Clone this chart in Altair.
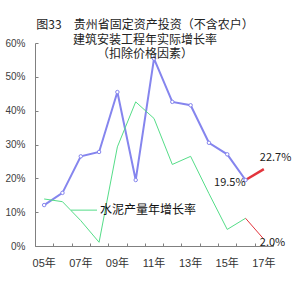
import altair as alt
import pandas as pd

# ---- data (percent) ----
years = ["05", "06", "07", "08", "09", "10", "11", "12", "13", "14", "15", "16", "17"]
hist_years = years[:12]
invest = [12.1, 15.7, 26.5, 27.8, 45.5, 19.5, 55.4, 42.6, 41.6, 30.5, 27.1, 19.5]
cement = [13.9, 13.1, 7.5, 1.1, 29.3, 42.6, 37.7, 24.1, 26.5, 15.5, 4.9, 8.2]
fc_years = ["16", "17"]
invest_fc = [19.5, 22.7]
cement_fc = [8.2, 2.0]
label_years = ["16", "17", "17"]
label_vals = [19.5, 22.7, 2.0]
label_texts = ["19.5%", "22.7%", "2.0%"]
odd_years = ["05", "07", "09", "11", "13", "15", "17"]
legend_text = "水泥产量年增长率"
legend_y = [10.6]
title_lines = ["图33\u3000贵州省固定资产投资（不含农户）", "建筑安装工程年实际增长率", "（扣除价格因素）"]

df_inv = pd.DataFrame({"year": hist_years, "v": invest})
df_cem = pd.DataFrame({"year": hist_years, "v": cement})
df_inv_fc = pd.DataFrame({"year": fc_years, "v": invest_fc})
df_cem_fc = pd.DataFrame({"year": fc_years, "v": cement_fc})
df_lab = pd.DataFrame({"year": label_years, "v": label_vals, "t": label_texts})
df_leg = pd.DataFrame({"v": legend_y, "t": [legend_text]})

FONT = "Liberation Sans, Noto Sans CJK SC"
CJK = "Noto Sans CJK SC"
BLUE = "#8585EE"
GREEN = "#55DD88"
RED = "#E3343C"
GRAY = "#808080"

xscale = alt.Scale(type="band", domain=years, paddingInner=0, paddingOuter=0)
yscale = alt.Scale(domain=[0, 60])

odd_js = "[" + ",".join("'" + y + "'" for y in odd_years) + "]"

x_main = alt.X(
    "year:O", scale=xscale, bandPosition=0.5,
    axis=alt.Axis(
        title=None, ticks=False, domainColor=GRAY, labelColor="#333333",
        labelFont=FONT, labelFontSize=11, labelPadding=11, labelAngle=0,
        labelExpr="indexof(" + odd_js + ", datum.value) >= 0 ? datum.value + '年' : ''",
    ),
)
y_main = alt.Y(
    "v:Q", scale=yscale,
    axis=alt.Axis(
        title=None, ticks=False, grid=False, values=[0, 10, 20, 30, 40, 50, 60],
        domainColor=GRAY, labelColor="#404040", labelFont=FONT, labelFontSize=10,
        labelPadding=10, labelExpr="datum.value + '%'",
    ),
)

x_plain = alt.X("year:O", scale=xscale, bandPosition=0.5, axis=None)
y_plain = alt.Y("v:Q", scale=yscale, axis=None)

# inward ticks via opposite-oriented axes moved onto the plot edges
x_ticks = alt.X(
    "year:O", scale=xscale, bandPosition=0.5,
    axis=alt.Axis(orient="top", offset=-203, title=None, labels=False, domain=False,
                  ticks=True, tickSize=3, tickColor=GRAY, tickBand="extent"),
)
y_ticks = alt.Y(
    "v:Q", scale=yscale,
    axis=alt.Axis(orient="right", offset=-238, title=None, labels=False, domain=False,
                  grid=False, ticks=True, tickSize=3, tickColor=GRAY,
                  values=[0, 10, 20, 30, 40, 50, 60]),
)

inv_line = alt.Chart(df_inv).mark_line(color=BLUE, strokeWidth=2).encode(x=x_main, y=y_main)
cem_line = alt.Chart(df_cem).mark_line(color=GREEN, strokeWidth=1).encode(x=x_ticks, y=y_ticks)
inv_pts = alt.Chart(df_inv).mark_point(shape="circle", size=12, filled=True, fill="white",
                                       stroke=BLUE, strokeWidth=1, opacity=1).encode(x=x_plain, y=y_plain)
inv_fc = alt.Chart(df_inv_fc).mark_line(color=RED, strokeWidth=2.5).encode(x=x_plain, y=y_plain)
cem_fc = alt.Chart(df_cem_fc).mark_line(color=RED, strokeWidth=1).encode(x=x_plain, y=y_plain)

lab_base = alt.Chart(df_lab)
lab1 = lab_base.transform_filter("datum.t == '19.5%'").mark_text(
    align="right", baseline="middle", dx=0, dy=3, font=CJK, fontSize=11, color="#222222"
).encode(x=x_plain, y=y_plain, text="t:N")
lab2 = lab_base.transform_filter("datum.t == '22.7%'").mark_text(
    align="left", baseline="middle", dx=-4, dy=-11, font=CJK, fontSize=11, color="#222222"
).encode(x=x_plain, y=y_plain, text="t:N")
lab3 = lab_base.transform_filter("datum.t == '2.0%'").mark_text(
    align="left", baseline="middle", dx=-4, dy=4, font=CJK, fontSize=11, color="#222222"
).encode(x=x_plain, y=y_plain, text="t:N")

leg_rule = alt.Chart(df_leg).mark_rule(color=GREEN, strokeWidth=1).encode(
    x=alt.value(36), x2=alt.value(62), y=y_plain)
leg_text = alt.Chart(df_leg).mark_text(align="left", baseline="middle", dx=0, font=CJK,
                                       fontSize=12, color="#111111").encode(
    x=alt.value(65), y=y_plain, text="t:N")

chart = alt.layer(
    inv_line, cem_line, cem_fc, leg_rule, inv_fc, inv_pts, lab1, lab2, lab3, leg_text
).resolve_axis(x="independent", y="independent").properties(
    width=238, height=203,
    autosize=alt.AutoSizeParams(type="none"),
    padding={"left": 35, "top": 43, "right": 24, "bottom": 45},
    background="white",
    title=alt.TitleParams(
        text=title_lines, font=CJK, fontSize=12, fontWeight="normal", color="#222222",
        anchor="middle", frame="group", baseline="top", lineHeight=14.5, offset=0, dy=23, dx=-9,
    ),
).configure_view(stroke=None)

chart.save("out.html", embed_options={"renderer": "svg", "actions": False})
